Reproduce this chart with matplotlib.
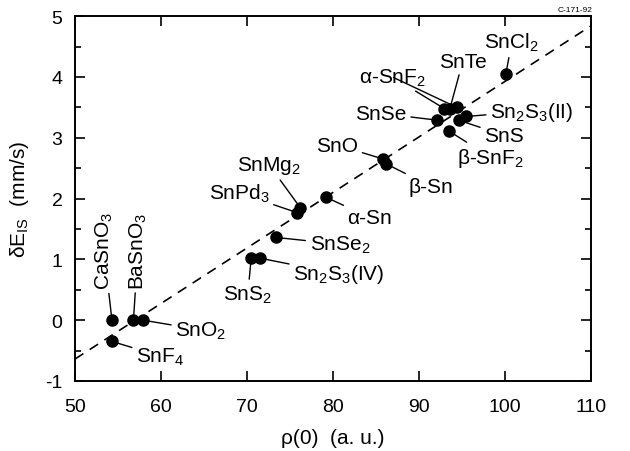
import matplotlib
matplotlib.use("Agg")
import matplotlib.pyplot as plt
from matplotlib.ticker import MultipleLocator

plt.rcParams['font.family'] = ['Liberation Sans', 'DejaVu Sans']
plt.rcParams['mathtext.default'] = 'regular'
plt.rcParams['axes.unicode_minus'] = False

# compounds, isomer shift vs. electron density at nucleus
names = ['CaSnO$_3$', 'BaSnO$_3$', 'SnO$_2$', 'SnF$_4$', 'SnS$_2$', 'Sn$_2$S$_3$(IV)',
         'SnSe$_2$', 'SnPd$_3$', 'SnMg$_2$', 'α-Sn', 'SnO', 'β-Sn', 'SnSe',
         'α-SnF$_2$', 'SnTe', 'α-SnF$_2$', 'SnS', 'Sn$_2$S$_3$(II)', 'β-SnF$_2$', 'SnCl$_2$']
rho = [54.3, 56.8, 57.9, 54.3, 70.5, 71.5, 73.4, 75.8, 76.2, 79.2, 85.85, 86.2, 92.1,
       92.95, 93.6, 94.4, 94.6, 95.5, 93.5, 100.1]
dE = [0.0, 0.0, 0.0, -0.35, 1.03, 1.02, 1.36, 1.77, 1.85, 2.02, 2.65, 2.57, 3.29,
      3.48, 3.48, 3.50, 3.29, 3.35, 3.11, 4.05]

# fitted line end points
fit_x = [50, 110]
fit_y = [-0.64, 4.84]

# label placement (data coords), rotation
label_pos = [(53.37, 1.15, 90), (57.33, 1.15, 90), (64.65, -0.16, 0), (59.9, -0.59, 0),
             (70.1, 0.43, 0), (80.7, 0.76, 0), (80.8, 1.25, 0), (69.1, 2.09, 0),
             (72.6, 2.55, 0), (84.3, 1.69, 0), (80.5, 2.88, 0), (91.4, 2.2, 0),
             (85.6, 3.4, 0), (86.9, 4.0, 0), (95.1, 4.26, 0), (86.9, 4.0, 0),
             (99.9, 3.04, 0), (103.1, 3.44, 0), (98.3, 2.68, 0), (100.8, 4.57, 0)]

fig = plt.figure(figsize=(6.3, 4.52), dpi=100)
ax = fig.add_axes([0.119, 0.155, 0.819, 0.807])

ax.plot(fit_x, fit_y, color='black', lw=1.2, dashes=(6, 4.5))
ax.plot(rho, dE, 'o', color='black', ms=8, zorder=3)

drawn = set()
for i, (nm, x, y) in enumerate(zip(names, rho, dE)):
    tx, ty, rot = label_pos[i]
    txt = nm if nm not in drawn else ''
    drawn.add(nm)
    ax.annotate(txt, xy=(x, y), xytext=(tx, ty), fontsize=15, rotation=rot,
                ha='center', va='center',
                arrowprops=dict(arrowstyle='-', color='black', lw=1.0,
                                shrinkA=1, shrinkB=0))

ax.set_xlim(50, 110)
ax.set_ylim(-1, 5)
ax.xaxis.set_major_locator(MultipleLocator(10))
ax.yaxis.set_major_locator(MultipleLocator(1))
ax.yaxis.set_minor_locator(MultipleLocator(0.5))
ax.tick_params(which='both', direction='in', top=True, right=True, labelsize=14, width=1.2)
ax.tick_params(which='major', length=7)
ax.tick_params(which='minor', length=4)
ax.tick_params(axis='x', pad=12)
ax.tick_params(axis='y', pad=9)
for s in ax.spines.values():
    s.set_linewidth(1.4)

ax.set_xlabel('ρ(0)  (a. u.)', fontsize=15, labelpad=10)
ax.set_ylabel('δE$_{IS}$  (mm/s)', fontsize=15, labelpad=10)
fig.text(0.94, 0.985, 'C-171-92', fontsize=6, ha='right', va='top')

fig.savefig('out.png', dpi=100)
